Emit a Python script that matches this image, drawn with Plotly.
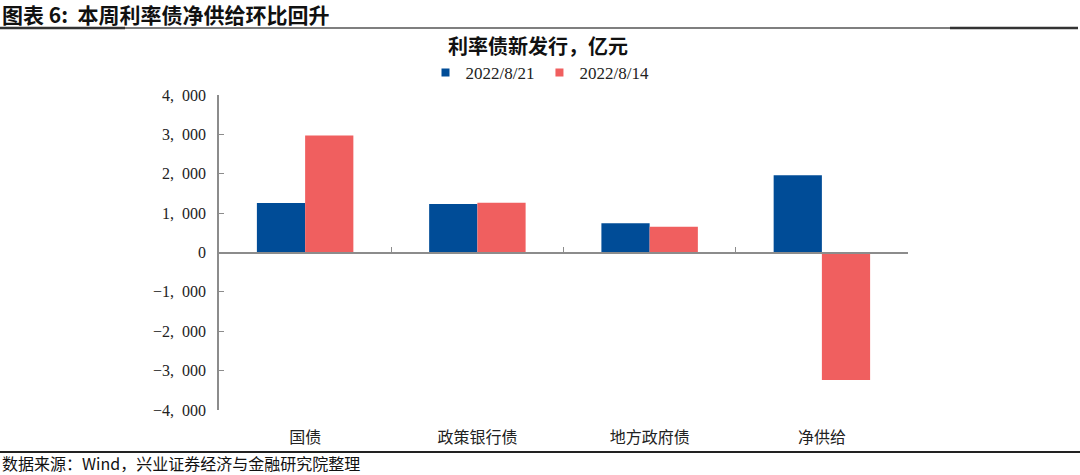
import plotly.graph_objects as go

categories = ["国债", "政策银行债", "地方政府债", "净供给"]
series_names = ["2022/8/21", "2022/8/14"]
values_0821 = [1255, 1230, 740, 1965]
values_0814 = [2970, 1265, 655, -3235]
colors = ["#004C97", "#F05F5F"]
y_tickvals = [4000, 3000, 2000, 1000, 0, -1000, -2000, -3000, -4000]
y_ticktext = ["4,\u00a0\u00a0000", "3,\u00a0\u00a0000", "2,\u00a0\u00a0000", "1,\u00a0\u00a0000", "0",
              "−1,\u00a0\u00a0000", "−2,\u00a0\u00a0000", "−3,\u00a0\u00a0000", "−4,\u00a0\u00a0000"]

serif = "Liberation Serif, Noto Sans CJK SC, serif"

W, H = 1080, 475
pl, pr, pt, pb = 219, 172, 95, 65

fig = go.Figure()
for name, vals, col in zip(series_names, [values_0821, values_0814], colors):
    fig.add_trace(go.Bar(x=categories, y=vals, name=name, marker=dict(color=col, line=dict(width=0)),
                         xaxis="x", yaxis="y", showlegend=False))
# legend proxies (small square keys)
for name, col in zip(series_names, colors):
    fig.add_trace(go.Scatter(x=[None], y=[None], name=name, mode="markers",
                             marker=dict(symbol="square", size=8, color=col), xaxis="x", yaxis="y"))
# helper trace for category labels at the bottom axis
fig.add_trace(go.Scatter(x=categories, y=[0, 0, 0, 0], xaxis="x2", yaxis="y", mode="markers",
                         marker=dict(opacity=0), showlegend=False, hoverinfo="skip"))

fig.update_layout(
    width=W, height=H,
    margin=dict(l=pl, r=pr, t=pt, b=pb, autoexpand=False),
    paper_bgcolor="white", plot_bgcolor="white",
    barmode="group", bargap=0.44, bargroupgap=0,
    font=dict(family=serif, size=14, color="#222"),
    showlegend=True,
    legend=dict(orientation="h", x=0.5, xref="container", xanchor="center",
                y=1 - 73 / H, yref="container", yanchor="middle",
                font=dict(family=serif, size=17, color="#222"), traceorder="normal",
                itemwidth=30, bgcolor="rgba(0,0,0,0)"),
    xaxis=dict(type="category", anchor="free", position=0.5, showline=True, linecolor="#8c8c8c",
               linewidth=1.5, ticks="inside", tickson="boundaries", ticklen=5, tickcolor="#8c8c8c",
               showticklabels=False, showgrid=False, zeroline=False, range=[-0.5, 3.5], automargin=False),
    xaxis2=dict(type="category", overlaying="x", matches="x", anchor="y", side="bottom", showline=False,
                ticks="", showgrid=False, zeroline=False, ticklabelstandoff=16, automargin=False,
                tickfont=dict(family="Noto Sans CJK SC", size=16, color="#222")),
    yaxis=dict(range=[-4000, 4000], tickvals=y_tickvals, ticktext=y_ticktext, showline=True,
               linecolor="#8c8c8c", linewidth=1.5, ticks="inside", ticklen=5, tickcolor="#8c8c8c",
               showgrid=False, zeroline=False, automargin=False,
               tickfont=dict(family=serif, size=16, color="#222"), ticklabelstandoff=8),
)


def px_x(x):
    return (x - pl) / (W - pl - pr)


def px_y(y):
    return 1 - (y - pt) / (H - pt - pb)


fig.add_annotation(text="<b>图表 6:  本周利率债净供给环比回升</b>", xref="paper", yref="paper",
                   x=px_x(0), y=px_y(14), xanchor="left", yanchor="middle", showarrow=False,
                   font=dict(family="Noto Sans CJK SC", size=21, color="#111"))
fig.add_annotation(text="<b>利率债新发行，亿元</b>", xref="paper", yref="paper",
                   x=px_x(538), y=px_y(45), xanchor="center", yanchor="middle", showarrow=False,
                   font=dict(family="Noto Sans CJK SC", size=20, color="#111"))
fig.add_annotation(text="数据来源：Wind，兴业证券经济与金融研究院整理", xref="paper", yref="paper",
                   x=px_x(0), y=px_y(463), xanchor="left", yanchor="middle", showarrow=False,
                   font=dict(family="Noto Sans CJK SC, Liberation Serif", size=16, color="#111"))

shapes = [
    dict(type="line", xref="paper", yref="paper", x0=px_x(0), x1=px_x(125), y0=px_y(28), y1=px_y(28),
         line=dict(color="#333", width=2.5)),
    dict(type="line", xref="paper", yref="paper", x0=px_x(125), x1=px_x(950), y0=px_y(28), y1=px_y(28),
         line=dict(color="#555", width=1.3)),
    dict(type="line", xref="paper", yref="paper", x0=px_x(950), x1=px_x(1078), y0=px_y(28), y1=px_y(28),
         line=dict(color="#333", width=2.5)),
    dict(type="line", xref="paper", yref="paper", x0=px_x(0), x1=px_x(1080), y0=px_y(452), y1=px_y(452),
         line=dict(color="#222", width=2)),
]
fig.update_layout(shapes=shapes)

fig.write_html("out.html", config={"displayModeBar": False},
               post_script="document.body.style.margin='0';document.body.style.padding='0';")
